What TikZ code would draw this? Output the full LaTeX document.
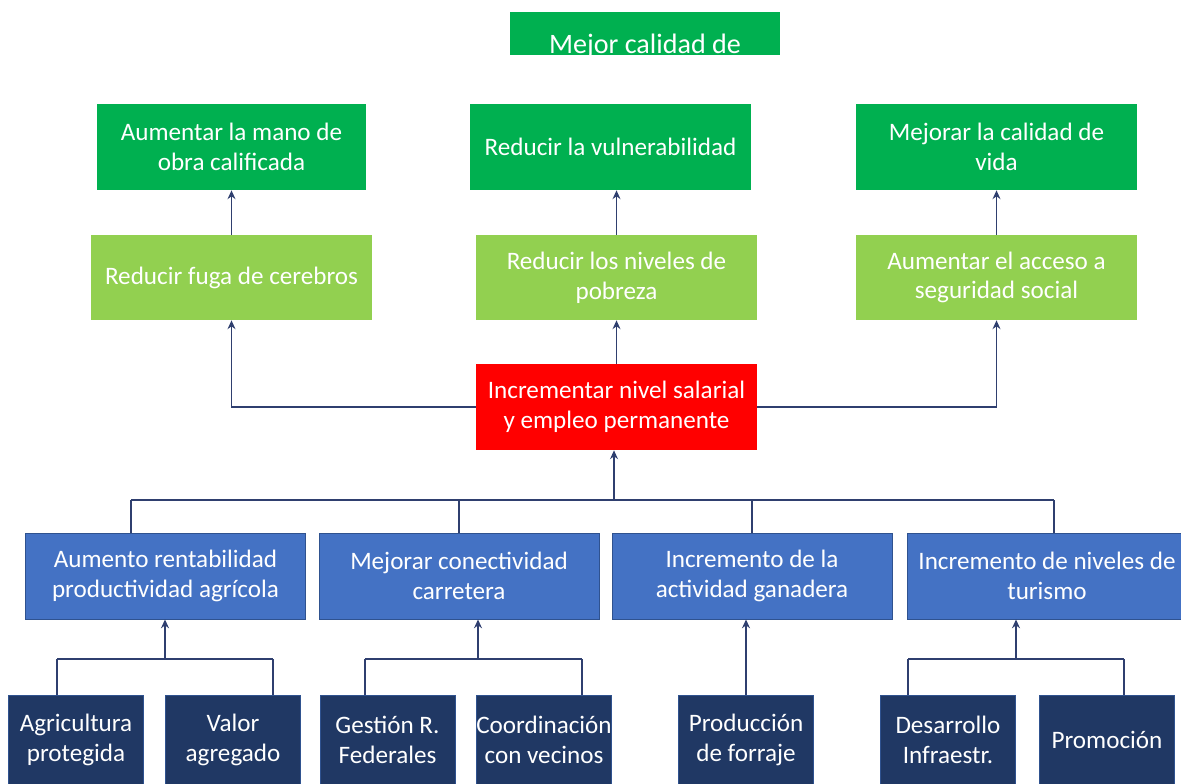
\documentclass[tikz,border=0pt]{standalone}
\usepackage{fontspec}
\setmainfont{Carlito}
\usetikzlibrary{positioning,arrows.meta}

\definecolor{finGreen}{HTML}{00B050}
\definecolor{objGreen}{HTML}{92D050}
\definecolor{coreRed}{HTML}{FF0000}
\definecolor{medioBlue}{HTML}{4472C4}
\definecolor{medioEdge}{HTML}{2F528F}
\definecolor{accionNavy}{HTML}{203864}
\definecolor{lineBlue}{HTML}{2F3F6F}

\tikzset{
  every box/.style={inner sep=0pt, align=center, text=white,
    font=\fontsize{14.3}{17}\selectfont},
  fin/.style={every box, fill=finGreen, minimum width=5.62cm, minimum height=1.72cm},
  objetivo/.style={every box, fill=objGreen, minimum width=5.62cm, minimum height=1.7cm},
  core/.style={every box, fill=coreRed, minimum width=5.62cm, minimum height=1.72cm},
  medio/.style={every box, fill=medioBlue, draw=medioEdge, line width=0.5pt,
    minimum width=5.6cm, minimum height=1.72cm},
  accion/.style={every box, fill=accionNavy, draw=medioEdge, line width=0.4pt,
    minimum width=2.7cm, minimum height=1.78cm},
  link/.style={draw=lineBlue, line width=0.9pt}
}

\begin{document}
\begin{tikzpicture}[x=0.02cm, y=-0.02cm, >={Stealth[length=5pt,width=4.5pt]}]

\useasboundingbox (0,0) rectangle (1181,784);
\clip (0,0) rectangle (1181,784);

% cut-off box on top
\begin{scope}
  \clip (510,12) rectangle (780,55);
  \fill[finGreen] (510,12) rectangle (780,55);
  \node (meta) [every box, anchor=base, font=\fontsize{16}{19}\selectfont] at (645,54) {Mejor calidad de};
\end{scope}

% fines
\node [fin, minimum width=5.38cm] (fin-1) at (231.5,147) {Aumentar la mano de\\obra calificada};
\node [fin] (fin-2) at (610.5,147) {Reducir la vulnerabilidad};
\node [fin] (fin-3) at (996.5,147) {Mejorar la calidad de\\vida};

% objetivos
\foreach \l/\x [count=\i] in {Reducir fuga de cerebros/231.5,
                              Reducir los niveles de\\pobreza/616.5,
                              Aumentar el acceso a\\seguridad social/996.5}
  \node [objetivo] (obj-\i) at (\x,277.5) {\l};

% problema central
\node [core] (core) at (616.5,407) {Incrementar nivel salarial\\y empleo permanente};

% medios
\foreach \l/\x [count=\i] in {Aumento rentabilidad\\productividad agrícola/165.5,
                              Mejorar conectividad\\carretera/459,
                              Incremento de la\\actividad ganadera/752,
                              Incremento de niveles de\\turismo/1047}
  \node [medio] (medio-\i) at (\x,576) {\l};

% acciones
\foreach \l/\x [count=\i] in {Agricultura\\protegida/76,
                              Valor\\agregado/233,
                              Gestión R.\\Federales/387.5,
                              Coordinación\\con vecinos/544,
                              Producción\\de forraje/746,
                              Desarrollo\\Infraestr./948,
                              Promoción/1107}
  \node [accion] (acc-\i) at (\x,739.5) {\l};

% objetivos -> fines
\foreach \i in {1,2,3}
  \draw [link,->] (obj-\i.north) -- (obj-\i.north |- fin-\i.south);

% core -> objetivos
\draw [link,->] (core.north) -- (core.north |- obj-2.south);
\draw [link,->] (core.west) -| (obj-1.south);
\draw [link,->] (core.east) -| (obj-3.south);

% medios -> core
\coordinate (bus) at (614,500);
\foreach \x [count=\k] in {131,459,752,1054}
  \coordinate (bus-\k) at (\x,500);
\draw [link] (bus-1) -- (bus-4);
\foreach \k in {1,...,4}
  \draw [link] (bus-\k) -- (bus-\k |- medio-\k.north);
\draw [link,->] (bus) -- (bus |- core.south);

% acciones -> medios
\foreach \x/\a/\b/\m [count=\g] in {165/57/273/1, 478/365/582/2, 1016/908/1124/4}
{
  \coordinate (sub-\g) at (\x,659);
  \coordinate (left-\g) at (\a,659);
  \coordinate (right-\g) at (\b,659);
  \draw [link] (left-\g) -- (right-\g);
  \draw [link,->] (sub-\g) -- (sub-\g |- medio-\m.south);
}
\draw [link] (left-1) -- (left-1 |- acc-1.north);
\draw [link] (right-1) -- (right-1 |- acc-2.north);
\draw [link] (left-2) -- (left-2 |- acc-3.north);
\draw [link] (right-2) -- (right-2 |- acc-4.north);
\draw [link] (left-3) -- (left-3 |- acc-6.north);
\draw [link] (right-3) -- (right-3 |- acc-7.north);
\draw [link,->] (acc-5.north) -- (acc-5.north |- medio-3.south);

\end{tikzpicture}
\end{document}
